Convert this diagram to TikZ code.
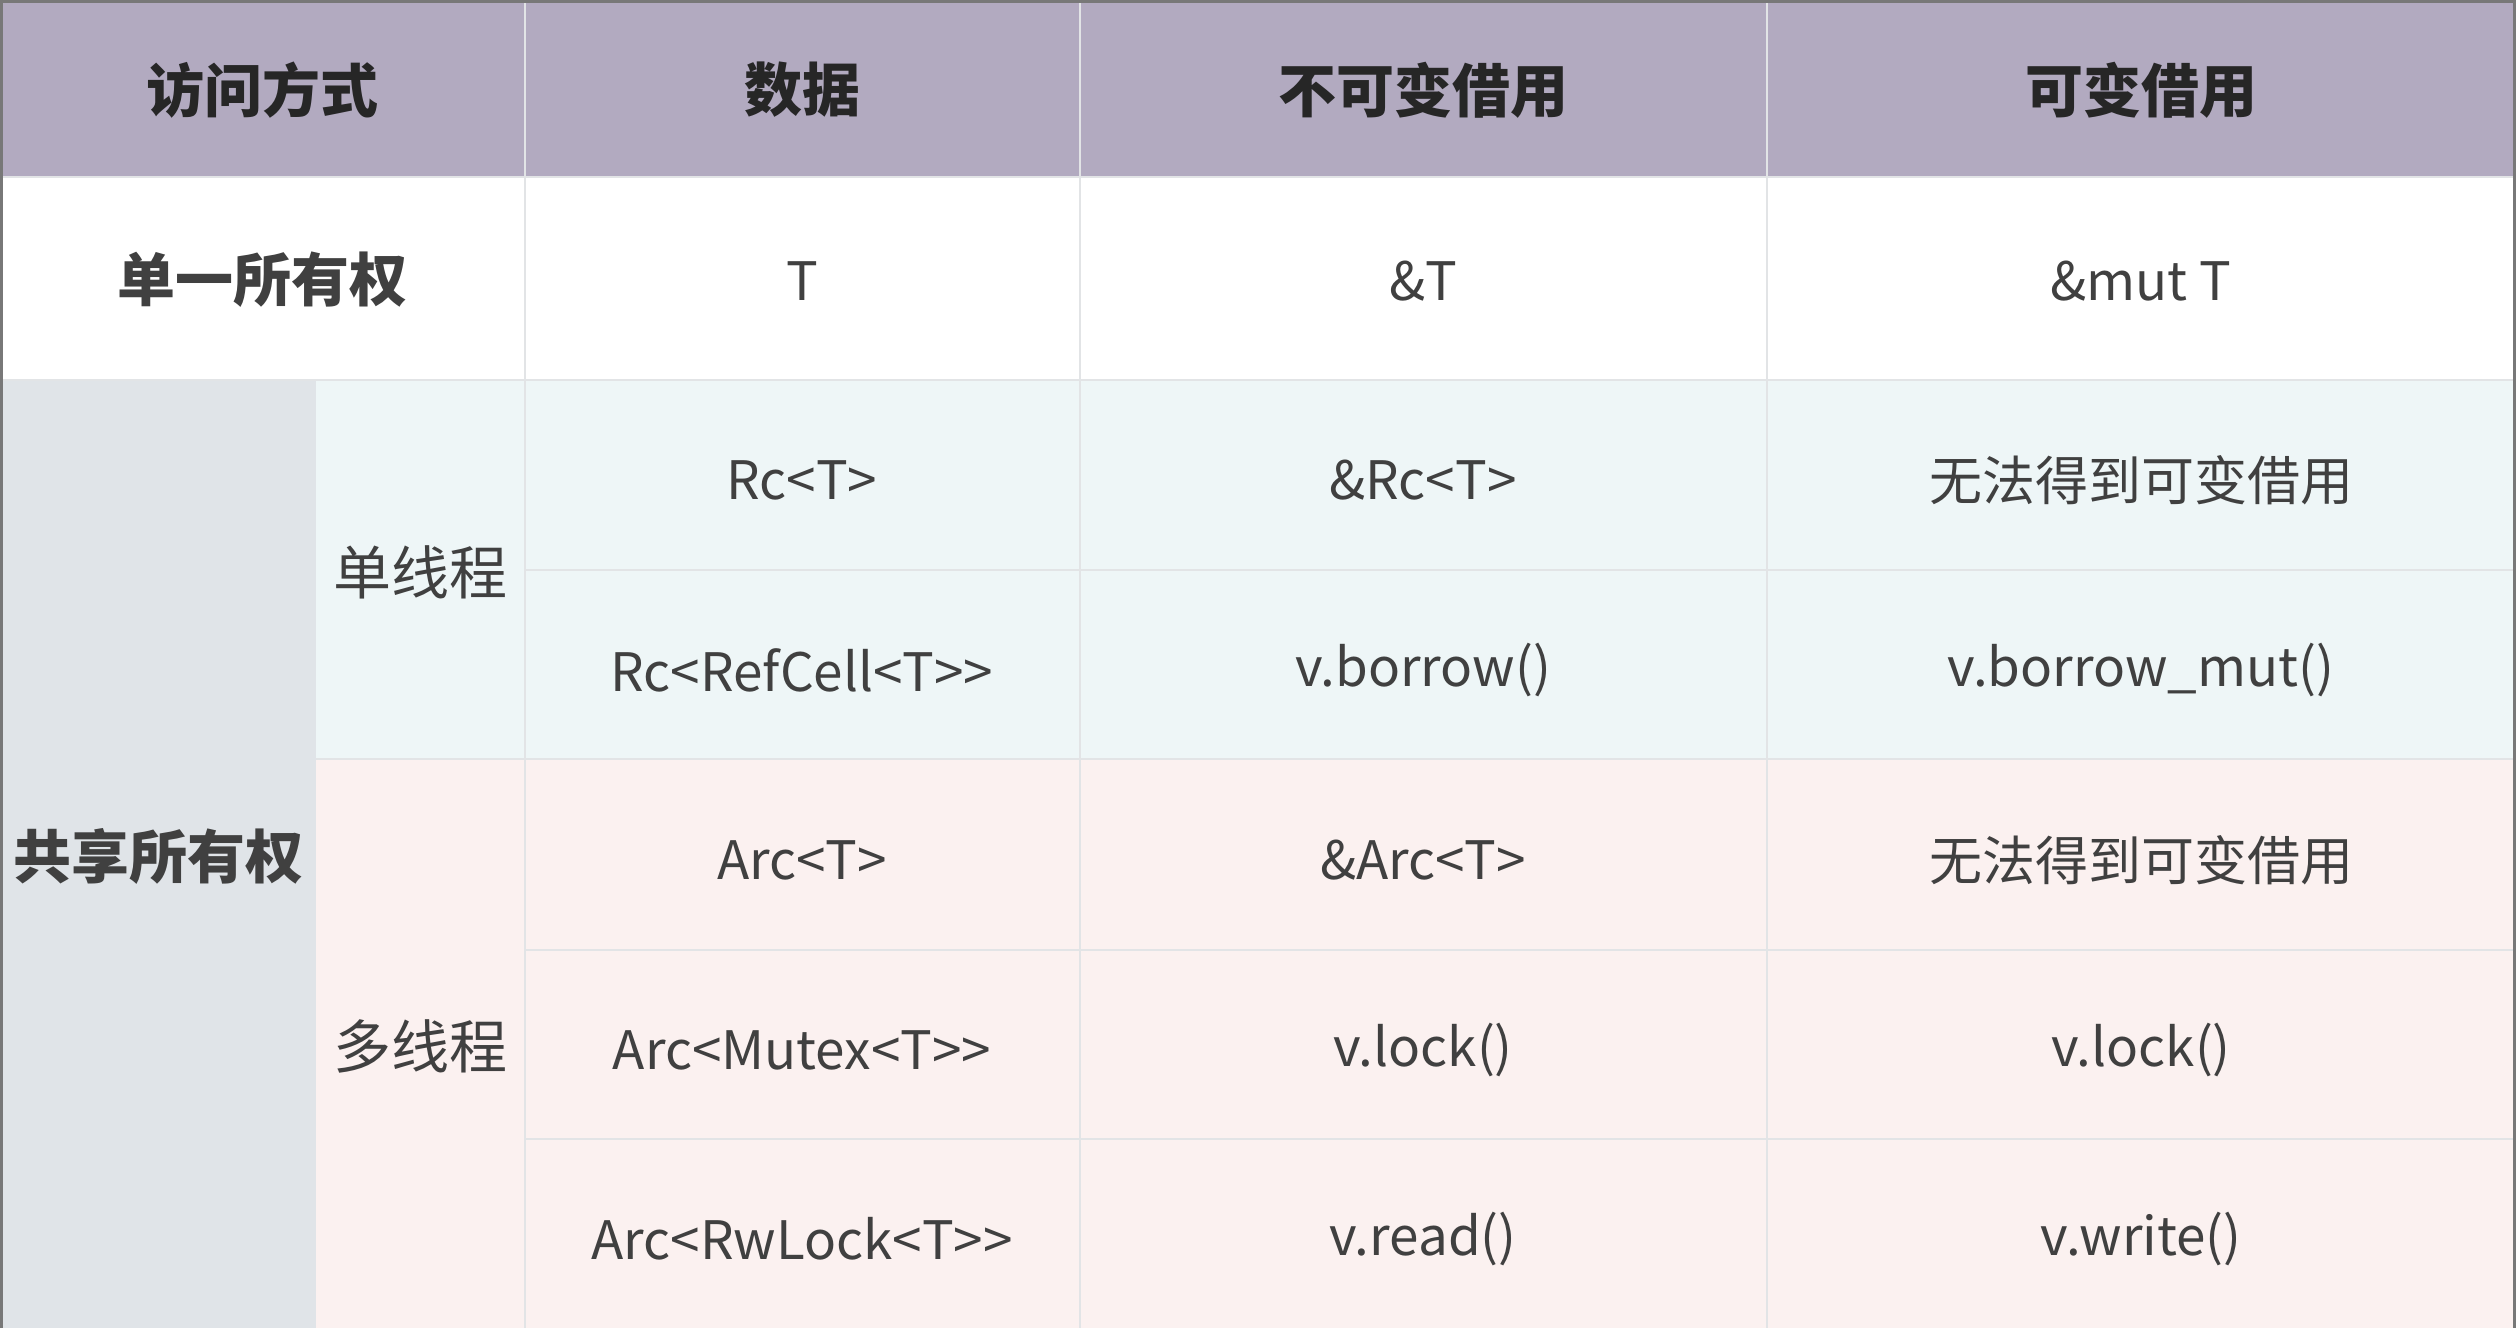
\documentclass[tikz,border=0pt]{standalone}
\usepackage{fontspec}
\setmainfont{Noto Sans CJK SC}[Ligatures=TeXOff]
\definecolor{headbg}{RGB}{178,170,192}
\definecolor{sharebg}{RGB}{224,228,232}
\definecolor{singlebg}{RGB}{238,246,247}
\definecolor{multibg}{RGB}{251,241,240}
\definecolor{gridline}{RGB}{226,228,230}
\definecolor{edge}{RGB}{120,120,120}
\definecolor{ink}{RGB}{64,64,64}
\definecolor{headink}{RGB}{38,38,38}
\tikzset{
  headtxt/.style={text=headink, font=\fontsize{58}{64}\selectfont\bfseries},
  sidetxt/.style={text=ink, font=\fontsize{58}{64}\selectfont},
  celltxt/.style={text=ink, font=\fontsize{53}{58}\selectfont},
  grid/.style={draw=gridline, line width=2pt}
}

\begin{document}
\begin{tikzpicture}[x=1pt, y=-1pt]
        \useasboundingbox (0,0) rectangle (2516,1328);

        % backgrounds
        \fill[headbg] (0,0) rectangle (2516,177);
        \fill[white] (0,177) rectangle (2516,380);
        \fill[sharebg] (0,380) rectangle (316,1328);
        \fill[singlebg] (316,380) rectangle (2516,759);
        \fill[multibg] (316,759) rectangle (2516,1328);

        % grid
        \foreach \x in {525, 1080, 1767} {
          \draw[grid] (\x,0) -- (\x,1328);
        }
        \draw[grid] (0,177) -- (2516,177);
        \draw[grid] (0,380) -- (2516,380);
        \draw[grid] (316,759) -- (2516,759);
        \foreach \y in {570, 950, 1139} {
          \draw[grid] (525,\y) -- (2516,\y);
        }
        \draw[edge, line width=3pt] (1.5,1328) -- (1.5,1.5) -- (2514.5,1.5) -- (2514.5,1328);

        % header
        \node[headtxt] (hmode) at (262,90) {访问方式};
        \node[headtxt] (hdata) at (802,90) {数据};
        \node[headtxt] (himm) at (1423,90) {不可变借用};
        \node[headtxt] (hmut) at (2141,90) {可变借用};

        % row labels
        \node[headtxt, text=ink] (own) at (262,280) {单一所有权};
        \node[headtxt, text=ink] (share) at (158,856) {共享所有权};
        \node[sidetxt] (single) at (420,572) {单线程};
        \node[sidetxt] (multi) at (420,1046) {多线程};

        % cells
        \foreach \y/\a/\b/\c/\n in {
            281/{T}/{\&T}/{\&mut T}/own,
            480/{Rc<T>}/{\&Rc<T>}/{无法得到可变借用}/rc,
            670/{Rc<RefCell<T>>}/{v.borrow()}/{v.borrow\_mut()}/cell,
            860/{Arc<T>}/{\&Arc<T>}/{无法得到可变借用}/arc,
            1050/{Arc<Mutex<T>>}/{v.lock()}/{v.lock()}/mutex,
            1239/{Arc<RwLock<T>>}/{v.read()}/{v.write()}/rwlock} {
          \node[celltxt] (\n-data) at (802,\y) {\a};
          \node[celltxt] (\n-imm) at (1423,\y) {\b};
          \node[celltxt] (\n-mut) at (2141,\y) {\c};
        }
      \end{tikzpicture}
\end{document}
